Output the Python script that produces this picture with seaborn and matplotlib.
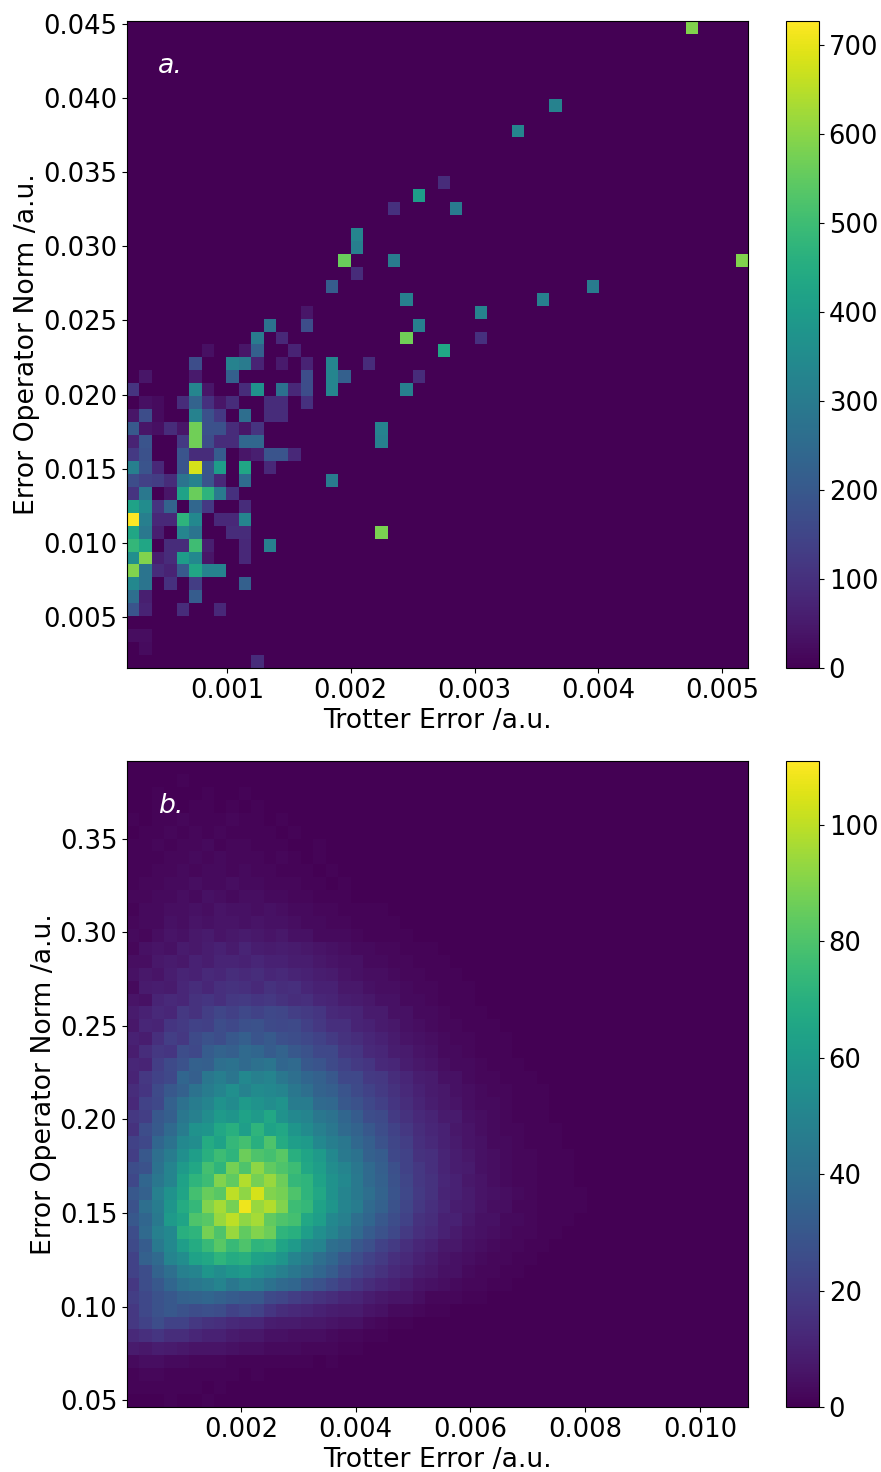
import numpy as np
import matplotlib
matplotlib.use("Agg")
import matplotlib.pyplot as plt
import seaborn as sns

# panel a: bin row (from bottom) -> {bin column: count}, 50 x 50 bins
a_rows = {
    0: {10: 90},
    1: {1: 20},
    2: {0: 25, 1: 25},
    4: {0: 190, 1: 70, 4: 90, 7: 80},
    5: {0: 260, 1: 60, 5: 210},
    6: {0: 340, 1: 280, 3: 100, 5: 130, 9: 220},
    7: {0: 590, 1: 280, 2: 90, 3: 70, 4: 200, 5: 430, 6: 320, 7: 320},
    8: {0: 360, 1: 590, 2: 60, 3: 90, 4: 400, 5: 340, 6: 40, 9: 80},
    9: {0: 480, 1: 430, 3: 90, 4: 90, 5: 500, 6: 60, 9: 80, 11: 310},
    10: {0: 430, 1: 290, 2: 60, 4: 330, 5: 280, 8: 90, 9: 90, 20: 580},
    11: {0: 727, 1: 310, 2: 80, 3: 80, 4: 470, 5: 340, 7: 80, 8: 80, 9: 330},
    12: {0: 420, 1: 350, 2: 110, 3: 230, 5: 240, 6: 120, 9: 90},
    13: {0: 110, 1: 290, 3: 40, 4: 420, 5: 560, 6: 470, 7: 300, 8: 100},
    14: {0: 170, 1: 140, 2: 130, 3: 90, 4: 280, 5: 320, 6: 190, 7: 80, 9: 250, 16: 300},
    15: {0: 310, 1: 190, 2: 80, 4: 190, 5: 680, 6: 190, 7: 400, 9: 430, 11: 80},
    16: {0: 120, 1: 180, 4: 190, 5: 90, 6: 90, 7: 210, 9: 40, 10: 60, 11: 190, 12: 190, 13: 80},
    17: {0: 70, 1: 190, 4: 120, 5: 570, 6: 170, 7: 90, 8: 90, 9: 240, 10: 240, 20: 310},
    18: {0: 200, 1: 40, 2: 30, 3: 90, 4: 40, 5: 570, 6: 180, 7: 180, 8: 90, 9: 40, 10: 110, 20: 320},
    19: {0: 40, 1: 170, 2: 20, 5: 320, 6: 180, 7: 120, 9: 260, 11: 90, 12: 90},
    20: {1: 30, 2: 20, 4: 90, 5: 230, 6: 100, 7: 40, 8: 90, 11: 90, 12: 90, 14: 100},
    21: {0: 110, 5: 330, 6: 40, 9: 90, 10: 370, 12: 270, 13: 80, 14: 170, 16: 330, 22: 310},
    22: {1: 40, 5: 50, 8: 220, 14: 170, 16: 330, 17: 220, 23: 90},
    23: {5: 170, 8: 320, 9: 300, 10: 70, 12: 50, 14: 70, 16: 330, 19: 90},
    24: {6: 30, 9: 40, 10: 220, 13: 70, 25: 430},
    25: {10: 300, 12: 80, 22: 570, 28: 100},
    26: {11: 270, 14: 170, 23: 310},
    27: {14: 40, 28: 320},
    28: {22: 310, 33: 310},
    29: {16: 210, 37: 300},
    30: {18: 90},
    31: {17: 560, 21: 300, 49: 590},
    32: {18: 310},
    33: {18: 330},
    35: {21: 100, 26: 300},
    36: {23: 400},
    37: {25: 90},
    41: {31: 330},
    43: {34: 320},
    49: {45: 590},
}

# panel b: counts read on a 50 x 50 grid, rows from bottom, rest of each row is zero
b_rows = [
    [0, 0, 0, 1, 0, 0, 1],
    [1, 1, 1, 1, 1, 1, 0, 1],
    [1, 2, 2, 1, 1, 1, 1, 1, 1, 0, 1],
    [3, 4, 4, 3, 3, 2, 2, 2, 1, 1, 1, 1, 1, 1, 1, 0, 1],
    [8, 7, 9, 8, 7, 6, 6, 6, 5, 4, 4, 3, 3, 3, 2, 2, 2, 1, 1],
    [13, 15, 17, 14, 14, 12, 10, 10, 8, 7, 7, 5, 5, 4, 4, 4, 3, 2, 2, 1, 1],
    [18, 22, 26, 22, 22, 18, 16, 15, 13, 12, 12, 9, 8, 8, 7, 7, 6, 5, 5, 3, 2, 1, 1],
    [18, 24, 28, 30, 28, 26, 27, 26, 22, 24, 22, 17, 14, 13, 12, 10, 9, 8, 8, 6, 5, 3, 3, 2, 1, 1],
    [20, 24, 28, 30, 34, 35, 36, 34, 32, 30, 30, 25, 23, 20, 18, 16, 14, 12, 11, 9, 7, 6, 6, 4, 2, 2, 2, 1, 1],
    [18, 26, 30, 36, 42, 44, 46, 50, 44, 48, 46, 42, 38, 36, 30, 28, 24, 20, 17, 14, 12, 10, 8, 6, 5, 4, 3, 2, 2, 1, 1],
    [22, 26, 35, 40, 48, 50, 58, 54, 58, 60, 55, 52, 48, 44, 40, 36, 32, 26, 22, 19, 16, 13, 11, 8, 7, 5, 5, 3, 2, 2, 1, 1],
    [22, 34, 38, 50, 54, 64, 66, 72, 68, 70, 64, 62, 58, 50, 46, 40, 36, 30, 26, 22, 19, 15, 13, 10, 8, 6, 5, 4, 3, 2, 2, 1, 1],
    [25, 32, 45, 52, 62, 68, 75, 82, 75, 80, 72, 74, 65, 60, 52, 50, 40, 38, 30, 27, 22, 19, 15, 12, 10, 7, 7, 5, 4, 3, 2, 2, 1, 1],
    [26, 38, 48, 52, 70, 72, 88, 80, 94, 84, 90, 86, 72, 70, 62, 55, 50, 44, 38, 32, 28, 24, 19, 15, 13, 10, 8, 6, 5, 4, 3, 2, 2, 1, 1],
    [30, 36, 45, 60, 65, 80, 82, 94, 100, 92, 96, 84, 80, 78, 66, 62, 52, 48, 40, 36, 30, 26, 22, 16, 14, 10, 10, 7, 5, 5, 3, 3, 2, 1, 1, 1],
    [28, 40, 46, 58, 68, 74, 90, 96, 88, 108, 94, 98, 90, 76, 74, 64, 58, 50, 46, 38, 34, 28, 23, 18, 15, 12, 9, 8, 6, 4, 4, 2, 2, 1, 1, 1, 1],
    [30, 34, 48, 56, 65, 78, 85, 82, 100, 92, 104, 90, 88, 80, 72, 66, 56, 50, 45, 40, 35, 29, 24, 19, 16, 11, 10, 8, 6, 5, 4, 3, 2, 1, 1, 1, 1],
    [24, 36, 44, 50, 64, 72, 76, 90, 84, 98, 88, 94, 86, 74, 72, 64, 56, 52, 45, 38, 34, 28, 23, 18, 16, 12, 10, 7, 6, 4, 3, 2, 2, 1, 1, 1],
    [26, 28, 42, 50, 60, 66, 78, 72, 88, 80, 92, 84, 80, 76, 66, 62, 54, 50, 44, 38, 33, 27, 22, 18, 15, 11, 9, 8, 5, 4, 3, 2, 2, 1, 1, 1],
    [20, 30, 40, 46, 55, 62, 70, 76, 72, 86, 80, 78, 82, 70, 65, 60, 52, 45, 42, 34, 32, 24, 22, 16, 15, 11, 9, 7, 5, 4, 3, 2, 2, 1, 1, 1],
    [22, 24, 36, 42, 52, 54, 68, 64, 74, 78, 70, 80, 68, 62, 60, 52, 47, 44, 37, 33, 28, 23, 20, 15, 13, 10, 8, 6, 5, 3, 3, 2, 1, 1, 1],
    [16, 26, 31, 38, 46, 56, 58, 66, 70, 62, 72, 64, 66, 58, 53, 48, 44, 38, 35, 30, 26, 22, 18, 14, 12, 10, 7, 6, 4, 3, 2, 2, 1, 1, 1],
    [18, 20, 30, 33, 44, 48, 54, 60, 58, 64, 60, 66, 56, 52, 50, 44, 42, 36, 32, 26, 25, 19, 16, 13, 11, 8, 8, 5, 4, 3, 2, 1, 1, 1],
    [13, 22, 24, 34, 41, 46, 50, 56, 53, 60, 57, 54, 57, 46, 46, 38, 37, 30, 28, 24, 21, 17, 14, 11, 9, 7, 6, 4, 3, 3, 2, 1, 1, 1],
    [14, 17, 25, 30, 34, 42, 46, 50, 55, 49, 53, 52, 50, 44, 40, 35, 33, 29, 25, 22, 19, 16, 13, 10, 8, 7, 5, 4, 3, 2, 2, 1, 1, 1],
    [11, 18, 22, 24, 36, 33, 44, 47, 43, 52, 48, 50, 44, 40, 36, 34, 30, 24, 24, 19, 18, 14, 12, 9, 8, 5, 5, 3, 2, 2, 1, 1, 1],
    [12, 11, 20, 25, 28, 34, 33, 40, 42, 38, 41, 43, 36, 38, 30, 29, 25, 22, 19, 17, 13, 12, 9, 7, 6, 4, 3, 3, 2, 1, 1, 1],
    [9, 14, 18, 17, 26, 24, 32, 35, 33, 38, 36, 32, 35, 30, 28, 24, 24, 18, 17, 13, 12, 9, 8, 6, 5, 3, 3, 2, 1, 1, 1],
    [10, 9, 15, 20, 18, 25, 28, 26, 30, 33, 29, 31, 27, 26, 24, 22, 19, 16, 14, 12, 10, 8, 6, 5, 4, 3, 2, 2, 1, 1, 1],
    [7, 12, 11, 17, 19, 22, 21, 26, 24, 27, 28, 25, 24, 25, 21, 18, 15, 15, 11, 10, 8, 7, 5, 4, 3, 2, 2, 1, 1, 1],
    [8, 10, 13, 12, 18, 16, 20, 23, 21, 24, 22, 24, 23, 20, 19, 17, 13, 12, 11, 8, 8, 5, 5, 3, 3, 2, 1, 1, 1],
    [6, 5, 11, 13, 12, 16, 17, 15, 18, 19, 17, 18, 16, 14, 15, 12, 11, 9, 8, 7, 5, 5, 3, 3, 2, 1, 1, 1],
    [3, 8, 9, 8, 12, 14, 12, 15, 16, 15, 13, 16, 14, 15, 12, 10, 10, 7, 7, 5, 4, 4, 3, 2, 2, 1, 1, 1],
    [5, 7, 6, 9, 11, 10, 13, 12, 14, 13, 14, 12, 13, 11, 10, 9, 8, 6, 5, 4, 4, 3, 2, 2, 1, 1, 1],
    [4, 4, 7, 8, 7, 10, 9, 11, 11, 10, 12, 10, 10, 9, 9, 7, 6, 5, 5, 3, 3, 2, 2, 1, 1, 1],
    [2, 5, 6, 5, 8, 7, 9, 10, 8, 11, 9, 8, 9, 8, 7, 6, 5, 4, 3, 3, 2, 2, 1, 1, 1],
    [3, 2, 4, 6, 5, 7, 8, 6, 7, 8, 7, 6, 7, 5, 5, 3, 3, 3, 2, 1, 1, 1, 1],
    [2, 3, 3, 5, 4, 6, 5, 6, 6, 5, 6, 5, 5, 4, 3, 3, 2, 2, 1, 1, 1, 1],
    [1, 3, 3, 4, 4, 5, 4, 6, 5, 5, 4, 5, 4, 3, 3, 2, 2, 1, 1, 1, 1],
    [2, 2, 3, 3, 4, 3, 5, 4, 3, 4, 4, 3, 3, 2, 2, 1, 1, 1],
    [1, 2, 2, 3, 3, 4, 3, 3, 4, 3, 3, 2, 2, 2, 1, 1, 0, 1],
    [1, 1, 2, 2, 3, 2, 3, 3, 2, 3, 2, 2, 1, 1, 1, 0, 1],
    [1, 1, 1, 2, 2, 3, 2, 3, 2, 2, 2, 1, 2, 1, 0, 1],
    [1, 1, 2, 1, 2, 2, 3, 1, 2, 2, 1, 1, 1, 0, 0, 1],
    [0, 1, 1, 2, 1, 2, 1, 2, 1, 1, 1, 1, 0, 1],
    [1, 0, 1, 1, 2, 1, 1, 1, 2, 1, 1, 0, 1],
    [0, 0, 1, 1, 0, 1, 1, 0, 1, 0, 1],
    [0, 0, 1, 0, 0, 0, 1, 0, 0, 1],
    [0, 0, 0, 0, 1],
    [],
]

a_xlim = (0.000192, 0.00521)
a_ylim = (0.00156, 0.0452)
b_xlim = (0.00001, 0.01084)
b_ylim = (0.04626, 0.3917)

a_xticks = [0.001, 0.002, 0.003, 0.004, 0.005]
a_yticks = [0.005, 0.010, 0.015, 0.020, 0.025, 0.030, 0.035, 0.040, 0.045]
a_cticks = [0, 100, 200, 300, 400, 500, 600, 700]
b_xticks = [0.002, 0.004, 0.006, 0.008, 0.010]
b_yticks = [0.05, 0.10, 0.15, 0.20, 0.25, 0.30, 0.35]
b_cticks = [0, 20, 40, 60, 80, 100]


def matrix_a():
    m = np.zeros((50, 50))
    for r, cells in a_rows.items():
        for c, v in cells.items():
            m[r, c] = v
    return m


def matrix_b():
    m = np.zeros((50, 50))
    for r, vals in enumerate(b_rows):
        m[r, :len(vals)] = vals
    return m


def draw_panel(ax, cax, m, xlim, ylim, vmax, xticks, yticks, cticks, xfmt, yfmt, tag):
    xedges = np.linspace(xlim[0], xlim[1], m.shape[1] + 1)
    yedges = np.linspace(ylim[0], ylim[1], m.shape[0] + 1)
    xc = (xedges[:-1] + xedges[1:]) / 2
    yc = (yedges[:-1] + yedges[1:]) / 2
    xx, yy = np.meshgrid(xc, yc)
    sns.histplot(x=xx.ravel(), y=yy.ravel(), weights=m.ravel(), bins=[xedges, yedges],
                 thresh=None, cmap="viridis", vmin=0, vmax=vmax, ax=ax, cbar=True, cbar_ax=cax)
    ax.set_xlim(xlim)
    ax.set_ylim(ylim)
    ax.set_xticks(xticks)
    ax.set_xticklabels([xfmt % t for t in xticks])
    ax.set_yticks(yticks)
    ax.set_yticklabels([yfmt % t for t in yticks])
    ax.set_xlabel("Trotter Error /a.u.", labelpad=3)
    ax.set_ylabel("Error Operator Norm /a.u.", labelpad=2)
    ax.text(0.05, 0.93, tag, transform=ax.transAxes, color="white", style="italic", va="center",
            fontsize=19.2)
    cax.set_yticks(cticks)


sns.set_style("ticks")
plt.rcParams.update({"font.family": "DejaVu Sans", "font.size": 18.6,
                     "axes.labelsize": 19.2, "xtick.labelsize": 18.6, "ytick.labelsize": 18.6,
                     "text.color": "black", "axes.labelcolor": "black",
                     "xtick.color": "black", "ytick.color": "black",
                     "xtick.major.size": 3.5, "ytick.major.size": 3.5,
                     "xtick.major.width": 0.8, "ytick.major.width": 0.8,
                     "axes.edgecolor": "black", "axes.linewidth": 0.8})

W, H = 881.0, 1472.0
fig = plt.figure(figsize=(W / 100, H / 100), dpi=100)
ax_a = fig.add_axes([127 / W, (H - 668) / H, 621 / W, 647 / H])
cax_a = fig.add_axes([786 / W, (H - 668) / H, 33 / W, 647 / H])
ax_b = fig.add_axes([127 / W, (H - 1407) / H, 621 / W, 646 / H])
cax_b = fig.add_axes([786 / W, (H - 1407) / H, 33 / W, 646 / H])

draw_panel(ax_a, cax_a, matrix_a(), a_xlim, a_ylim, 727, a_xticks, a_yticks, a_cticks, "%.3f", "%.3f", "a.")
draw_panel(ax_b, cax_b, matrix_b(), b_xlim, b_ylim, 111, b_xticks, b_yticks, b_cticks, "%.3f", "%.2f", "b.")

fig.savefig("out.png", dpi=100)
